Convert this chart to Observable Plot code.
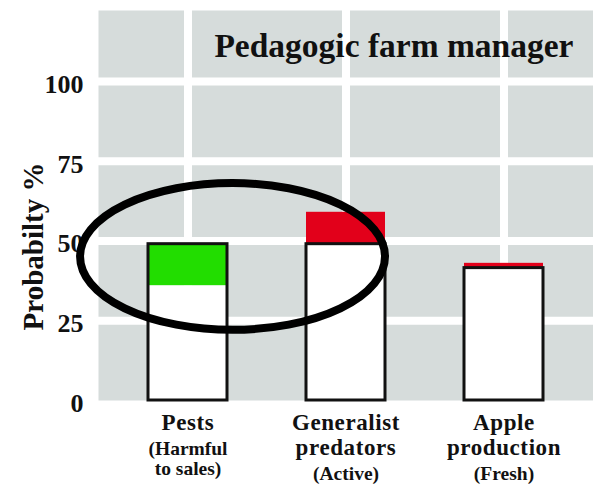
<!DOCTYPE html>
<html>
<head>
<meta charset="utf-8">
<script src="https://cdn.jsdelivr.net/npm/d3@7"></script>
<script src="https://cdn.jsdelivr.net/npm/@observablehq/plot@0.6"></script>
<style>
  html, body { margin: 0; padding: 0; background: #fff; }
  #chart svg { display: block; }
</style>
</head>
<body>
<div id="chart"></div>
<script>
// ---- data ----
const categories = ["Pests", "Generalist predators", "Apple production"];
const beforeValues = [49, 49, 41.5];   // outlined bar (initial probability)
const afterValues = [36, 59, 43];      // probability after change
const yTicks = [0, 25, 50, 75, 100];
const xLabelMain = [["Pests"], ["Generalist", "predators"], ["Apple", "production"]];
const xLabelSub = [["(Harmful", "to sales)"], ["(Active)"], ["(Fresh)"]];
const titleText = "Pedagogic farm manager";
const yLabelText = "Probabilty %";
// annotation ellipse around the first two categories (value range and offsets in band steps)
const ellipseCategories = ["Pests", "Generalist predators"];
const ellipseStepOffsets = [-0.68, 0.25];
const ellipseValueRange = [22, 68];

// ---- derived table ----
const bars = categories.map((c, i) => ({
  category: c,
  before: beforeValues[i],
  after: afterValues[i],
  low: Math.min(beforeValues[i], afterValues[i]),
  high: Math.max(beforeValues[i], afterValues[i]),
  change: afterValues[i] < beforeValues[i] ? "decrease" : "increase"
}));

const labelRows = [];
categories.forEach((c, i) => {
  let offset = 29;
  xLabelMain[i].forEach(t => { labelRows.push({category: c, text: t, size: 23, kind: "main", offset}); offset += 25; });
  xLabelSub[i].forEach(t => { labelRows.push({category: c, text: t, size: 19.5, kind: "sub", offset}); offset += 20.5; });
});

const W = 593, H = 490;
const mTop = 10, mBottom = 90, mLeft = 98, mRight = 0;
const yMax = 100 * (H - mBottom - mTop) / 319;

const plot = Plot.plot({
  width: W,
  height: H,
  marginTop: mTop,
  marginBottom: mBottom,
  marginLeft: mLeft,
  marginRight: mRight,
  style: {fontFamily: "'Liberation Serif', 'Times New Roman', serif", fontSize: "26px", fontWeight: "bold", color: "#111", background: "#fff", overflow: "visible"},
  x: {type: "band", domain: categories, paddingInner: 0.5, paddingOuter: 0.31, axis: null},
  y: {domain: [0, yMax], ticks: yTicks, tickSize: 0, tickPadding: 15, label: null, tickFormat: d => String(d)},
  color: {domain: ["decrease", "increase"], range: ["#22dd00", "#e2001a"]},
  marks: [
    Plot.frame({fill: "#d6dcdb", stroke: null}),
    Plot.ruleY(yTicks.filter(d => d > 0), {stroke: "#fff", strokeWidth: 8}),
    Plot.ruleX(categories, {x: d => d, stroke: "#fff", strokeWidth: 8}),
    Plot.barY(bars, {x: "category", y1: 0, y2: "low", fill: "#fff"}),
    Plot.barY(bars, {x: "category", y1: "low", y2: "high", fill: "change"}),
    Plot.barY(bars, {x: "category", y1: 0, y2: "before", fill: "none", stroke: "#111", strokeWidth: 3}),
    Plot.text([titleText], {frameAnchor: "top-right", lineAnchor: "top", dx: -20, dy: 23, fontSize: 33.5, fontWeight: "bold", fill: "#111"}),
    Plot.text([yLabelText], {frameAnchor: "left", rotate: -90, lineAnchor: "bottom", textAnchor: "middle", dx: -56, dy: 41, fontSize: 29, fontWeight: "bold", fill: "#111"}),
    ...labelRows.map(r => Plot.text([r], {x: "category", text: "text", frameAnchor: "bottom", lineAnchor: "bottom", dy: r.offset, fontSize: r.size, fontWeight: "bold", fill: "#111"}))
  ]
});

// style y tick labels (slightly below their gridlines, as in the reference)
d3.select(plot).selectAll('[aria-label^="y-axis"]').each(function() {
  const g = d3.select(this);
  g.attr("transform", ((g.attr("transform") || "") + " translate(0,3)").trim());
});
d3.select(plot).selectAll('[aria-label^="y-axis"] text').style("font-size", "26px").style("font-weight", "bold");

// widen the main category labels a little, like the reference lettering
const mainSet = new Set(xLabelMain.flat());
d3.select(plot).selectAll("text").filter(function() { return mainSet.has(this.textContent); })
  .style("letter-spacing", "0.6px");

// ellipse annotation, placed through the plot's own scales
const xs = plot.scale("x"), ys = plot.scale("y");
const step = xs.step !== undefined ? xs.step : (xs.bandwidth / (1 - 0.5));
const bw = xs.bandwidth || 0;
const centerOf = c => xs.apply(c) + bw / 2;
const ex1 = centerOf(ellipseCategories[0]) + ellipseStepOffsets[0] * step;
const ex2 = centerOf(ellipseCategories[1]) + ellipseStepOffsets[1] * step;
const ey1 = ys.apply(ellipseValueRange[1]);
const ey2 = ys.apply(ellipseValueRange[0]);
d3.select(plot).append("ellipse")
  .attr("cx", (ex1 + ex2) / 2)
  .attr("cy", (ey1 + ey2) / 2)
  .attr("rx", (ex2 - ex1) / 2)
  .attr("ry", (ey2 - ey1) / 2)
  .attr("fill", "none")
  .attr("stroke", "#000")
  .attr("stroke-width", 8);

document.getElementById("chart").appendChild(plot);
</script>
</body>
</html>
